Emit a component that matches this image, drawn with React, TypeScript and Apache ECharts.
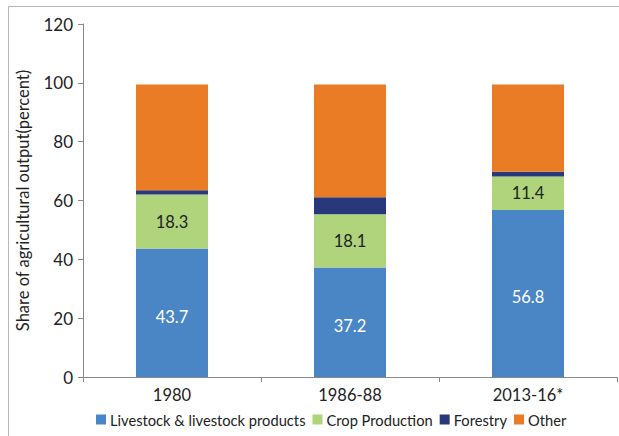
import React, { useEffect, useRef } from "react";
import * as echarts from "echarts";

const categories = ["1980", "1986-88", "2013-16*"];
const livestock = [43.7, 37.2, 56.8];
const crop = [18.3, 18.1, 11.4];
const forestry = [1.5, 5.8, 1.6];
const other = [35.9, 38.3, 29.6];
const yTicks = { min: 0, max: 120, interval: 20 };

const FONT = "Lato, 'Open Sans', sans-serif";

export default function App() {
  const ref = useRef<HTMLDivElement>(null);
  useEffect(() => {
    document.body.style.margin = "0";
    const chart = echarts.init(ref.current!, undefined, { renderer: "svg" });
    const barW = 72;
    chart.setOption({
      animation: false,
      textStyle: { fontFamily: FONT },
      graphic: [
        {
          type: "rect",
          shape: { x: 8.5, y: 6.5, width: 700, height: 500 },
          style: { fill: "none", stroke: "#b8b8b8", lineWidth: 1 },
          silent: true,
          z: -1,
        },
      ],
      grid: { left: 83, right: 2, top: 24, bottom: 59 },
      legend: {
        top: 407,
        left: 91,
        itemWidth: 10,
        itemHeight: 10,
        itemGap: 7,
        icon: "rect",
        textStyle: { fontSize: 14.7, color: "#222", fontFamily: FONT, padding: [0, 0, 0, -1] },
        data: ["Livestock & livestock products", "Crop Production", "Forestry", "Other"],
      },
      xAxis: {
        type: "category",
        data: categories,
        axisLine: { lineStyle: { color: "#888", width: 1 } },
        axisTick: { show: true, length: 5, lineStyle: { color: "#888" } },
        axisLabel: { fontSize: 16.5, color: "#222", margin: 9, fontFamily: FONT },
      },
      yAxis: {
        type: "value",
        min: yTicks.min,
        max: yTicks.max,
        interval: yTicks.interval,
        name: "Share of agricultural output(percent)",
        nameLocation: "middle",
        nameGap: 52,
        nameTextStyle: { fontSize: 16.5, color: "#222", fontFamily: FONT },
        splitLine: { show: false },
        axisLine: { show: true, lineStyle: { color: "#888", width: 1 } },
        axisTick: { show: true, length: 5, lineStyle: { color: "#888" } },
        axisLabel: { fontSize: 17, color: "#222", margin: 10, fontFamily: FONT },
      },
      series: [
        {
          name: "Livestock & livestock products",
          type: "bar",
          stack: "a",
          barWidth: barW,
          data: livestock,
          itemStyle: { color: "#4A86C5" },
          label: { show: true, position: "inside", color: "#fff", fontSize: 16.5, fontFamily: FONT, offset: [0, 4] },
        },
        {
          name: "Crop Production",
          type: "bar",
          stack: "a",
          barWidth: barW,
          data: crop,
          itemStyle: { color: "#AFD47B" },
          label: { show: true, position: "inside", color: "#222", fontSize: 16.5, fontFamily: FONT },
        },
        {
          name: "Forestry",
          type: "bar",
          stack: "a",
          barWidth: barW,
          data: forestry,
          itemStyle: { color: "#28387A" },
        },
        {
          name: "Other",
          type: "bar",
          stack: "a",
          barWidth: barW,
          data: other,
          itemStyle: { color: "#E97C25" },
        },
      ],
    });
    return () => chart.dispose();
  }, []);
  return <div ref={ref} style={{ width: 619, height: 436 }} />;
}
